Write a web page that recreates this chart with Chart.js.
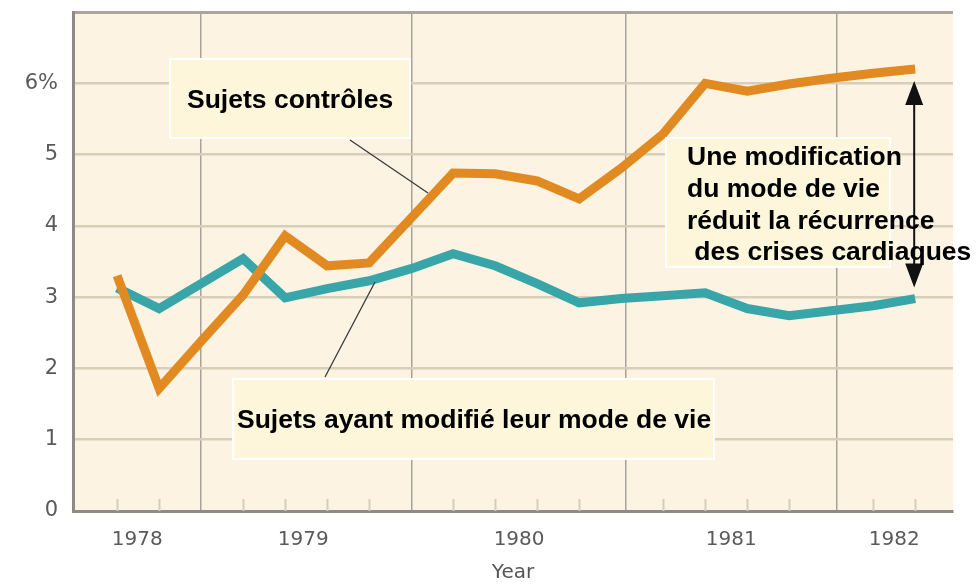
<!DOCTYPE html>
<html>
<head>
<meta charset="utf-8">
<title>Sujets contrôles vs modifié mode de vie</title>
<script src="https://cdn.jsdelivr.net/npm/chart.js@4.4.0/dist/chart.umd.min.js"></script>
<style>
    html, body { margin: 0; padding: 0; background: #ffffff; }
    canvas { display: block; }
</style>
</head>
<body>
<canvas id="chart" width="980" height="586"></canvas>
<script>
// 데이터: 20 points (x = index along the time axis)
const periods = [0, 1, 2, 3, 4, 5, 6, 7, 8, 9, 10, 11, 12, 13, 14, 15, 16, 17, 18, 19];
const controles = [3.30, 1.72, 2.38, 3.03, 3.86, 3.44, 3.48, 4.11, 4.74, 4.73,
                   4.63, 4.38, 4.81, 5.29, 6.00, 5.89, 5.99, 6.07, 6.14, 6.20];
const modifies = [3.13, 2.84, 3.19, 3.54, 2.99, 3.12, 3.23, 3.40, 3.61, 3.44,
                  3.19, 2.92, 2.98, 3.02, 3.06, 2.84, 2.74, 2.81, 2.88, 2.98];

// tick labels
const yearLabels = ['1978', '1979', '1980', '1981', '1982'];
const yearTickPos = [0.48, 4.43, 9.57, 14.62, 18.5];
const gridPos = [2, 7.02, 12.1, 17.14];
const yTickLabels = ['0', '1', '2', '3', '4', '5', '6%'];

// colours
const ORANGE = '#e18a22';
const TEAL = '#38a6a8';
const PLOT_BG = '#fdf3e2';
const BOX_BG = '#fef6da';

// 플롯 배경
const plotBackground = {
    id: 'plotBackground',
    beforeDraw(chart) {
        const { ctx, chartArea: a } = chart;
        ctx.save();
        ctx.fillStyle = PLOT_BG;
        ctx.fillRect(a.left, a.top, a.right - a.left, a.bottom - a.top);
        ctx.restore();
    }
};

// 작은 눈금 (inside plot, at each period, skipped where a gridline is)
const minorTicks = {
    id: 'minorTicks',
    beforeDatasetsDraw(chart) {
        const { ctx, chartArea: a, scales } = chart;
        ctx.save();
        ctx.strokeStyle = '#d6ccbb';
        ctx.lineWidth = 2;
        periods.forEach(p => {
            if (gridPos.some(g => Math.round(g) === p)) return;
            const x = Math.round(scales.x.getPixelForValue(p)) + 0.5;
            ctx.beginPath();
            ctx.moveTo(x, a.bottom - 12);
            ctx.lineTo(x, a.bottom);
            ctx.stroke();
        });
        ctx.restore();
    }
};

function drawBox(ctx, x, y, w, h) {
    ctx.fillStyle = BOX_BG;
    ctx.fillRect(x, y, w, h);
    ctx.strokeStyle = '#ffffff';
    ctx.lineWidth = 2;
    ctx.strokeRect(x, y, w, h);
}

function drawLine(ctx, x1, y1, x2, y2) {
    ctx.strokeStyle = '#3a3a3a';
    ctx.lineWidth = 1.3;
    ctx.beginPath();
    ctx.moveTo(x1, y1);
    ctx.lineTo(x2, y2);
    ctx.stroke();
}

// 주석
const annotations = {
    id: 'annotations',
    afterDatasetsDraw(chart) {
        const { ctx, scales } = chart;
        ctx.save();

        // pointer lines
        drawLine(ctx, 350, 140, 428, 193);
        drawLine(ctx, 325, 377, 375, 282);

        // double arrow between the last points
        const ax = scales.x.getPixelForValue(periods[periods.length - 1]) - 1;
        const ay1 = scales.y.getPixelForValue(controles[controles.length - 1]) + 12;
        const ay2 = scales.y.getPixelForValue(modifies[modifies.length - 1]) - 11;
        ctx.strokeStyle = '#111';
        ctx.fillStyle = '#111';
        ctx.lineWidth = 2;
        ctx.beginPath();
        ctx.moveTo(ax, ay1 + 10);
        ctx.lineTo(ax, ay2 - 10);
        ctx.stroke();
        ctx.beginPath();
        ctx.moveTo(ax, ay1);
        ctx.lineTo(ax - 9, ay1 + 24);
        ctx.lineTo(ax + 9, ay1 + 24);
        ctx.closePath();
        ctx.fill();
        ctx.beginPath();
        ctx.moveTo(ax, ay2);
        ctx.lineTo(ax - 9, ay2 - 24);
        ctx.lineTo(ax + 9, ay2 - 24);
        ctx.closePath();
        ctx.fill();

        // boxes
        drawBox(ctx, 170, 59, 240, 79);
        drawBox(ctx, 233, 379, 481, 80);
        drawBox(ctx, 666, 138, 224, 129);

        ctx.fillStyle = '#000';
        ctx.font = 'bold 26.5px "Liberation Sans", Arial, sans-serif';
        ctx.textBaseline = 'middle';
        ctx.textAlign = 'left';
        ctx.fillText('Sujets contrôles', 187, 101);
        ctx.fillText('Sujets ayant modifié leur mode de vie', 237, 421);
        const lines = ['Une modification', 'du mode de vie', 'réduit la récurrence', ' des crises cardiaques'];
        lines.forEach((t, i) => ctx.fillText(t, 687, 158 + i * 31.7));

        ctx.restore();
    }
};

new Chart(document.getElementById('chart').getContext('2d'), {
    type: 'line',
    data: {
        datasets: [{
            label: 'Sujets contrôles',
            data: periods.map((p, i) => ({ x: p, y: controles[i] })),
            borderColor: ORANGE,
            borderWidth: 9,
            borderJoinStyle: 'miter',
            pointRadius: 0,
            tension: 0
        }, {
            label: 'Sujets ayant modifié leur mode de vie',
            data: periods.map((p, i) => ({ x: p, y: modifies[i] })),
            borderColor: TEAL,
            borderWidth: 9,
            borderJoinStyle: 'miter',
            pointRadius: 0,
            tension: 0
        }]
    },
    options: {
        responsive: false,
        devicePixelRatio: 1,
        animation: false,
        layout: { padding: { top: 12, right: 27, left: 0, bottom: 0 } },
        plugins: {
            legend: { display: false },
            tooltip: { enabled: false }
        },
        scales: {
            x: {
                type: 'linear',
                min: -1.05,
                max: 19.9,
                afterFit: (scale) => {
                    scale.height = 75;
                    scale.paddingLeft = 0;
                    scale.paddingRight = 0;
                },
                afterBuildTicks: (scale) => {
                    scale.ticks = [...gridPos, ...yearTickPos]
                        .sort((a, b) => a - b)
                        .map(v => ({ value: v }));
                },
                grid: {
                    drawTicks: false,
                    color: (c) => gridPos.includes(c.tick && c.tick.value) ? '#a8a298' : 'rgba(0,0,0,0)',
                    lineWidth: 1.5
                },
                border: { display: true, color: '#8f8a84', width: 3 },
                ticks: {
                    autoSkip: false,
                    maxRotation: 0,
                    minRotation: 0,
                    padding: 17,
                    color: '#5a5a5a',
                    font: { family: 'DejaVu Sans', size: 20 },
                    callback: (value) => {
                        const i = yearTickPos.indexOf(value);
                        return i >= 0 ? yearLabels[i] : '';
                    }
                },
                title: {
                    display: true,
                    text: 'Year',
                    color: '#555',
                    font: { family: 'DejaVu Sans', size: 20 },
                    padding: { top: 0, bottom: 1 }
                }
            },
            y: {
                min: 0,
                max: 7,
                afterFit: (scale) => {
                    scale.width = 73;
                    scale.paddingTop = 0;
                    scale.paddingBottom = 0;
                },
                grid: {
                    drawTicks: false,
                    color: (c) => {
                        const v = c.tick && c.tick.value;
                        if (v === 0) return 'rgba(0,0,0,0)';
                        if (v === 7) return '#aaa59e';
                        return '#d8ceba';
                    },
                    lineWidth: (c) => (c.tick && c.tick.value === 7) ? 3 : 2.5
                },
                border: { display: true, color: '#8f8a84', width: 3 },
                ticks: {
                    stepSize: 1,
                    padding: 15,
                    color: '#5a5a5a',
                    font: { family: 'DejaVu Sans', size: 21 },
                    callback: (value) => yTickLabels[value] ?? ''
                }
            }
        }
    },
    plugins: [plotBackground, minorTicks, annotations]
});
</script>
</body>
</html>
